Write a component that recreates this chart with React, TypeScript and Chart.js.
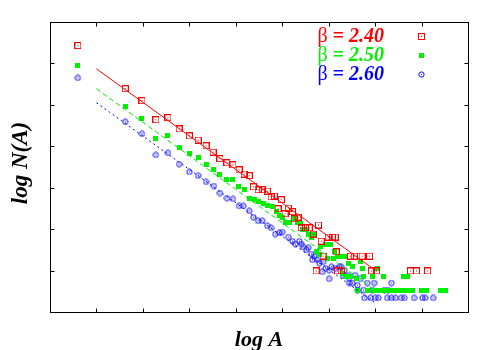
import React, { useEffect, useRef } from "react";
import { Chart, registerables } from "chart.js";
Chart.register(...registerables);

const xTicks = [1, 2, 3, 4, 5, 6, 7, 8];
const yTicks = [1, 2, 3, 4, 5, 6];
const betaLabels = ["2.40", "2.50", "2.60"];
const seriesColors = ["#ff0000", "#00f000", "#0000ff"];

const fitX = [1.0, 7.0];
const redFit = [5.87, 1.01];
const greenFit = [5.39, 0.53];
const blueFit = [5.05, 0.22];

const redPts: number[][] = [
  [0.60, 6.43], [1.62, 5.39], [1.98, 5.10], [2.28, 4.64], [2.54, 4.69], [2.78, 4.42], [3.00, 4.25], [3.19, 4.15],
  [3.36, 4.01], [3.51, 3.86], [3.66, 3.70], [3.81, 3.60], [3.94, 3.55], [4.07, 3.43], [4.18, 3.33], [4.29, 3.29],
  [4.38, 3.02], [4.48, 2.95], [4.57, 2.95], [4.68, 2.92], [4.76, 2.78], [4.83, 2.80], [4.91, 2.49], [4.98, 2.71],
  [5.06, 2.37], [5.13, 2.51], [5.22, 2.42], [5.26, 2.25], [5.34, 2.29], [5.41, 2.03], [5.50, 2.03], [5.58, 2.03],
  [5.67, 1.88], [5.73, 0.99], [5.78, 2.10], [5.84, 1.71], [5.88, 1.35], [5.99, 1.81], [6.08, 1.81], [6.14, 1.81],
  [6.16, 1.45], [6.19, 0.99], [6.27, 0.99], [6.47, 1.35], [6.55, 1.35], [6.72, 1.35], [6.88, 1.35], [6.92, 0.99],
  [7.03, 0.99], [7.76, 0.99], [7.89, 0.99], [8.13, 0.99],
];

const greenPts: number[][] = [
  [0.60, 5.94], [1.62, 4.95], [1.98, 4.66], [2.28, 4.18], [2.54, 4.25], [2.78, 3.96], [3.00, 3.82], [3.19, 3.74],
  [3.36, 3.57], [3.51, 3.43], [3.66, 3.33], [3.81, 3.19], [3.94, 3.21], [4.05, 3.02], [4.18, 2.95], [4.29, 2.75],
  [4.40, 2.71], [4.48, 2.66], [4.59, 2.61], [4.68, 2.56], [4.78, 2.54], [4.87, 2.42], [4.94, 2.34], [5.00, 2.29],
  [5.06, 2.15], [5.15, 2.17], [5.26, 2.25], [5.32, 2.17], [5.39, 2.13], [5.43, 1.98], [5.52, 2.00], [5.56, 1.88],
  [5.63, 1.81], [5.67, 1.86], [5.73, 1.45], [5.80, 1.38], [5.82, 1.59], [5.93, 1.62], [5.97, 1.30], [6.03, 1.64],
  [6.10, 1.30], [6.12, 1.45], [6.19, 1.33], [6.25, 1.33], [6.29, 0.94], [6.34, 1.33], [6.36, 0.85], [6.42, 1.18],
  [6.47, 0.85], [6.51, 1.11], [6.59, 0.82], [6.62, 0.51], [6.68, 1.21], [6.72, 1.06], [6.75, 0.85], [6.83, 0.51],
  [6.94, 0.85], [6.96, 0.51], [7.05, 1.04], [7.18, 0.85], [7.61, 0.85], [7.69, 0.85], [7.07, 0.51], [7.16, 0.51],
  [7.26, 0.51], [7.37, 0.51], [7.48, 0.51], [7.59, 0.51], [7.69, 0.51], [7.80, 0.51], [8.00, 0.51], [8.10, 0.51],
  [8.41, 0.51], [8.51, 0.51],
];

const bluePts: number[][] = [
  [0.60, 5.65], [1.62, 4.59], [1.98, 4.30], [2.28, 3.79], [2.54, 3.84], [2.78, 3.57], [3.00, 3.38], [3.19, 3.29],
  [3.36, 3.14], [3.53, 3.04], [3.66, 2.87], [3.81, 2.75], [3.94, 2.73], [4.07, 2.56], [4.16, 2.56], [4.29, 2.44],
  [4.38, 2.29], [4.48, 2.20], [4.57, 2.20], [4.68, 2.08], [4.76, 2.03], [4.85, 1.88], [4.94, 1.91], [5.00, 1.93],
  [5.13, 1.81], [5.22, 1.71], [5.28, 1.64], [5.37, 1.71], [5.41, 1.64], [5.45, 1.57], [5.52, 1.50], [5.56, 1.55],
  [5.63, 1.40], [5.65, 1.26], [5.69, 1.35], [5.75, 1.26], [5.80, 1.18], [5.86, 0.97], [5.88, 1.21], [5.93, 1.06],
  [6.01, 1.01], [6.01, 0.80], [6.06, 1.09], [6.14, 1.06], [6.23, 1.09], [6.27, 1.09], [6.31, 0.89], [6.34, 1.01],
  [6.42, 0.89], [6.44, 0.82], [6.44, 0.70], [6.51, 0.70], [6.57, 0.89], [6.62, 0.65], [6.62, 0.53], [6.68, 0.80],
  [6.75, 0.53], [6.77, 0.34], [6.83, 0.70], [6.90, 0.34], [6.94, 0.53], [6.98, 0.70], [7.00, 0.34], [7.07, 0.34],
  [7.20, 0.53], [7.26, 0.34], [7.28, 0.53], [7.35, 0.70], [7.35, 0.34], [7.44, 0.34], [7.56, 0.34], [7.63, 0.34],
  [7.84, 0.34], [8.02, 0.34], [8.08, 0.34], [8.25, 0.34],
];

function makeMarker(kind: string, color: string): HTMLCanvasElement {
  const c = document.createElement("canvas");
  const s = kind === "fill" ? 5 : 7;
  c.width = s;
  c.height = s;
  const g = c.getContext("2d")!;
  g.strokeStyle = color;
  g.fillStyle = color;
  g.lineWidth = 1;
  if (kind === "square") {
    g.strokeRect(0.5, 0.5, 6, 6);
    g.fillRect(3, 3, 1, 1);
  } else if (kind === "fill") {
    g.fillRect(0, 0, 5, 5);
  } else {
    g.beginPath();
    g.arc(3.5, 3.5, 2.6, 0, Math.PI * 2);
    g.stroke();
    g.fillRect(3, 3, 1, 1);
  }
  return c;
}

export default function App() {
  const ref = useRef<HTMLCanvasElement | null>(null);
  useEffect(() => {
    document.body.style.margin = "0";
    const canvas = ref.current!;
    const markers = [
      makeMarker("square", seriesColors[0]),
      makeMarker("fill", seriesColors[1]),
      makeMarker("circle", seriesColors[2]),
    ];
    const toPts = (a: number[][]) => a.map((p) => ({ x: p[0], y: p[1] }));
    const fit = (ys: number[]) => fitX.map((x, i) => ({ x, y: ys[i] }));

    const decor = {
      id: "decor",
      afterDraw(chart: any) {
        const { ctx, chartArea: a, scales } = chart;
        const xs = scales.x;
        const ys = scales.y;
        ctx.save();
        ctx.strokeStyle = "#000";
        ctx.lineWidth = 1;
        const L = Math.round(a.left) + 0.5;
        const T = Math.round(a.top) + 0.5;
        const R = Math.round(a.right) + 0.5;
        const B = Math.round(a.bottom) + 0.5;
        ctx.strokeRect(L, T, R - L, B - T);
        ctx.beginPath();
        for (const t of xTicks) {
          const px = Math.round(xs.getPixelForValue(t)) + 0.5;
          ctx.moveTo(px, B);
          ctx.lineTo(px, B - 4);
          ctx.moveTo(px, T);
          ctx.lineTo(px, T + 4);
        }
        for (const t of yTicks) {
          const py = Math.round(ys.getPixelForValue(t)) + 0.5;
          ctx.moveTo(L, py);
          ctx.lineTo(L + 4, py);
          ctx.moveTo(R, py);
          ctx.lineTo(R - 4, py);
        }
        ctx.stroke();

        ctx.fillStyle = "#000";
        ctx.textAlign = "center";
        ctx.textBaseline = "alphabetic";
        ctx.font = "bold italic 22px 'Liberation Serif'";
        ctx.fillText("log A", (a.left + a.right) / 2, 346);
        ctx.save();
        ctx.translate(27, 163);
        ctx.rotate(-Math.PI / 2);
        ctx.font = "bold italic 23px 'Liberation Serif'";
        ctx.fillText("log N(A)", 0, 0);
        ctx.restore();

        ctx.textAlign = "left";
        for (let i = 0; i < betaLabels.length; i++) {
          const base = 42 + 19 * i;
          const rest = " = " + betaLabels[i];
          ctx.font = "bold italic 20px 'Liberation Serif'";
          const wRest = ctx.measureText(rest).width;
          ctx.font = "20px 'Liberation Serif'";
          const wB = ctx.measureText("\u03b2").width;
          const right = 384;
          ctx.fillStyle = seriesColors[i];
          ctx.fillText("\u03b2", right - wRest - wB, base);
          ctx.font = "bold italic 20px 'Liberation Serif'";
          ctx.fillText(rest, right - wRest, base);
          const m = markers[i];
          ctx.drawImage(m, Math.round(421 - m.width / 2), Math.round(base - 6 - m.height / 2));
        }
        ctx.restore();
      },
    };

    const chart = new Chart(canvas, {
      type: "scatter",
      data: {
        datasets: [
          { data: fit(redFit), showLine: true, borderColor: seriesColors[0], borderWidth: 1, pointRadius: 0 } as any,
          { data: fit(greenFit), showLine: true, borderColor: seriesColors[1], borderWidth: 1, borderDash: [5, 3], pointRadius: 0 } as any,
          { data: fit(blueFit), showLine: true, borderColor: seriesColors[2], borderWidth: 1, borderDash: [2, 3], pointRadius: 0 } as any,
          { data: toPts(redPts), pointStyle: markers[0], pointRadius: 3.5 } as any,
          { data: toPts(greenPts), pointStyle: markers[1], pointRadius: 3 } as any,
          { data: toPts(bluePts), pointStyle: markers[2], pointRadius: 3.5 } as any,
        ],
      },
      options: {
        responsive: false,
        animation: false,
        events: [],
        layout: { padding: { top: 22, right: 32, left: 0, bottom: 0 } },
        plugins: { legend: { display: false }, tooltip: { enabled: false } },
        scales: {
          x: {
            type: "linear",
            min: 0,
            max: 9,
            ticks: { display: false },
            grid: { display: false },
            border: { display: false },
            afterFit: (s: any) => { s.height = 38; },
          },
          y: {
            type: "linear",
            min: 0,
            max: 7,
            ticks: { display: false },
            grid: { display: false },
            border: { display: false },
            afterFit: (s: any) => { s.width = 50; },
          },
        },
      },
      plugins: [decor],
    });
    return () => chart.destroy();
  }, []);
  return <canvas ref={ref} width={500} height={350} style={{ display: "block" }} />;
}
